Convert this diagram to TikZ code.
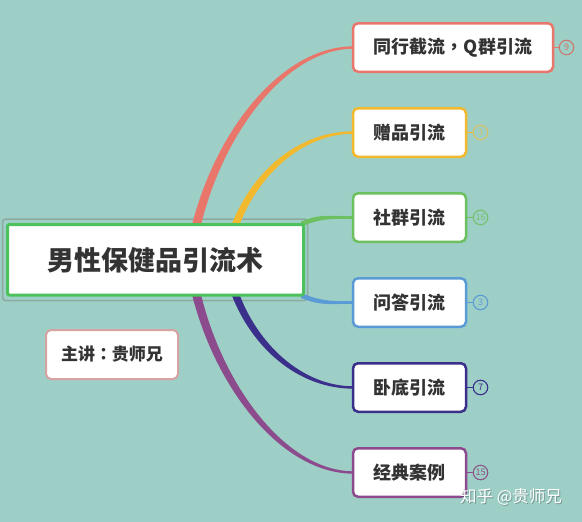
\documentclass[tikz,border=0pt]{standalone}
\usepackage{fontspec}
\newfontfamily\cjk{Noto Sans CJK SC}
\newfontfamily\cjktc{Noto Sans CJK TC}
\usetikzlibrary{calc,backgrounds}
\definecolor{bgc}{RGB}{158,207,199}
\definecolor{cA}{RGB}{232,118,106}
\definecolor{cB}{RGB}{242,185,47}
\definecolor{cC}{RGB}{109,192,95}
\definecolor{cD}{RGB}{91,155,213}
\definecolor{cE}{RGB}{58,47,138}
\definecolor{cF}{RGB}{140,75,140}
\definecolor{mgreen}{RGB}{77,194,92}
\definecolor{mgray}{RGB}{140,170,160}
\definecolor{pinkb}{RGB}{216,162,162}
\definecolor{txt}{RGB}{51,51,51}
\tikzset{
  mainbox/.style={draw=mgreen, line width=3pt, fill=white, rounded corners=2pt,
    minimum width=296pt, minimum height=70.5pt, inner sep=0pt,
    font=\cjk\bfseries\fontsize{27}{27}\selectfont, text=txt},
  rbox/.style={line width=2.5pt, fill=white, rounded corners=5pt,
    minimum height=48.5pt, inner sep=0pt,
    font=\cjk\bfseries\fontsize{18}{18}\selectfont, text=txt},
  badge/.style={circle, line width=1.1pt, minimum size=14.5pt, inner sep=0pt,
    font=\cjk\fontsize{9}{9}\selectfont},
  stub/.style={line width=1.6pt},
}
\begin{document}
\begin{tikzpicture}[x=1pt,y=-1pt]
\begin{scope}[on background layer]
\fill[bgc] (0,0) rectangle (582,522);
\end{scope}
\useasboundingbox (0,0) rectangle (582,522);

% central node
\node[mainbox] (main) at (155.5,259.75) {男性保健品引流术};
\begin{scope}[on background layer]
\draw[mgray, line width=1.5pt, rounded corners=3pt]
  ($(main.north west)+(-3.5,-4)$) rectangle ($(main.south east)+(2.5,4)$);
\end{scope}

% speaker node
\node[rbox, draw=pinkb, line width=2pt, minimum width=132pt, minimum height=49pt,
  font=\cjk\bfseries\fontsize{17}{17}\selectfont] (spk) at (112,354.5) {主讲{\cjktc\bfseries ：}贵师兄};

% branch boxes
\node[rbox, draw=cA, minimum width=200pt] (b1) at (453,47.5) {同行截流{\cjktc\bfseries ，}Q群引流};
\node[rbox, draw=cB, minimum width=113pt] (b2) at (409.5,132.5) {赠品引流};
\node[rbox, draw=cC, minimum width=113pt] (b3) at (409.5,217.5) {社群引流};
\node[rbox, draw=cD, minimum width=113pt] (b4) at (409.5,302.5) {问答引流};
\node[rbox, draw=cE, minimum width=113pt] (b5) at (409.5,387.5) {卧底引流};
\node[rbox, draw=cF, minimum width=113pt] (b6) at (409.5,472.5) {经典案例};

% badges
\node[badge, draw=cA!70!gray, text=cA!70!gray] (n1) at (566.5,47.5) {9};
\node[badge, draw=cB!65!bgc, text=cB!65!bgc] (n2) at (480.5,132.5) {3};
\node[badge, draw=cC!85!bgc, text=cC!85!bgc] (n3) at (480.5,217.5) {16};
\node[badge, draw=cD, text=cD] (n4) at (480.5,302.5) {3};
\node[badge, draw=cE, text=cE] (n5) at (480.5,387.5) {7};
\node[badge, draw=cF!75!gray, text=cF!75!gray] (n6) at (480.5,472.5) {15};

\begin{scope}[on background layer]
\coordinate (r1) at ($(main.north west)+(190.5,2)$);
\coordinate (r2) at ($(main.north west)+(229.5,2)$);
\coordinate (r3) at ($(main.north east)+(-4,1)$);
\coordinate (r4) at ($(main.south east)+(-4,-1)$);
\coordinate (r5) at ($(main.south west)+(229.5,-2)$);
\coordinate (r6) at ($(main.south west)+(190.5,-2)$);
% tapered connectors
\fill[cA] ($(r1)+(-4.5,0)$) .. controls +(24,-95) and +(-72,0) .. ($(b1.west)+(2,-1.2)$)
  -- ($(b1.west)+(2,1.2)$) .. controls +(-68,0) and +(22,-91) .. ($(r1)+(4.5,0)$) -- cycle;
\fill[cB] ($(r2)+(-4,0)$) .. controls +(20,-52) and +(-57,0) .. ($(b2.west)+(2,-1.2)$)
  -- ($(b2.west)+(2,1.2)$) .. controls +(-53,0) and +(18,-48) .. ($(r2)+(4,0)$) -- cycle;
\fill[cC] ($(r3)+(0,-2.5)$) .. controls +(20,-8) and +(-25,0) .. ($(b3.west)+(2,-1.3)$)
  -- ($(b3.west)+(2,1.3)$) .. controls +(-25,0) and +(20,-8) .. ($(r3)+(0,2.5)$) -- cycle;
\fill[cD] ($(r4)+(0,-2.5)$) .. controls +(20,8) and +(-25,0) .. ($(b4.west)+(2,-1.3)$)
  -- ($(b4.west)+(2,1.3)$) .. controls +(-25,0) and +(20,8) .. ($(r4)+(0,2.5)$) -- cycle;
\fill[cE] ($(r5)+(-4,0)$) .. controls +(20,52) and +(-57,0) .. ($(b5.west)+(2,1.2)$)
  -- ($(b5.west)+(2,-1.2)$) .. controls +(-53,0) and +(18,48) .. ($(r5)+(4,0)$) -- cycle;
\fill[cF] ($(r6)+(-4.5,0)$) .. controls +(24,95) and +(-72,0) .. ($(b6.west)+(2,1.2)$)
  -- ($(b6.west)+(2,-1.2)$) .. controls +(-68,0) and +(22,91) .. ($(r6)+(4.5,0)$) -- cycle;
% stubs to badges
\draw[stub, cA] (b1.east) -- (n1.west);
\draw[stub, cB] (b2.east) -- (n2.west);
\draw[stub, cC] (b3.east) -- (n3.west);
\draw[stub, cD] (b4.east) -- (n4.west);
\draw[stub, cE] (b5.east) -- (n5.west);
\draw[stub, cF] (b6.east) -- (n6.west);
\end{scope}

% watermark
\node[text=black, opacity=0.25, font=\cjk\fontsize{16.5}{16.5}\selectfont] (wms) at (512,498) {知乎 @贵师兄};
\node[text=white, font=\cjk\fontsize{16.5}{16.5}\selectfont] (wm) at (511,497) {知乎 @贵师兄};
\end{tikzpicture}
\end{document}
